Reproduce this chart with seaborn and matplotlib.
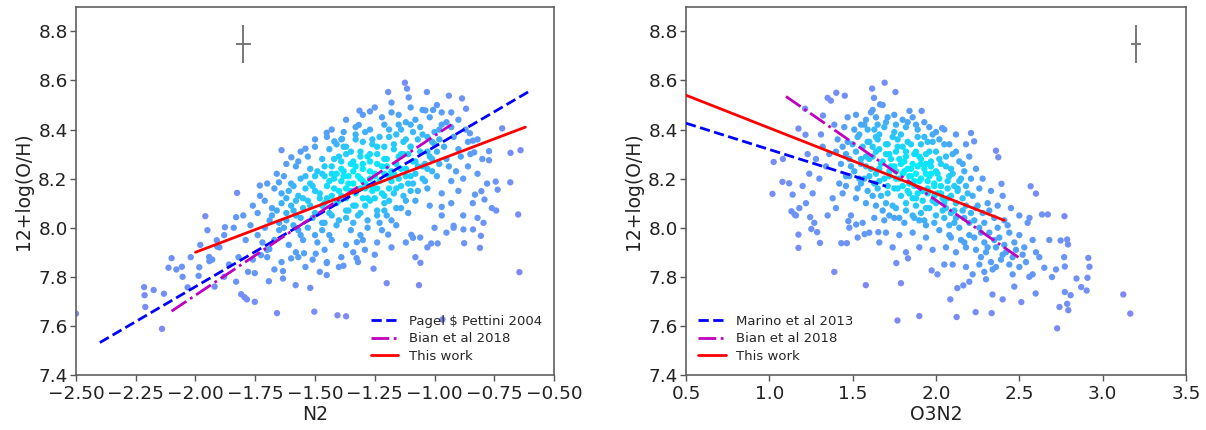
import numpy as np
import pandas as pd
import matplotlib
matplotlib.use("Agg")
import matplotlib.pyplot as plt
from matplotlib.colors import LinearSegmentedColormap
import seaborn as sns

# ---------------- data: N2 panel ----------------
n2_outliers = [
    (-1.124, 8.591), (-1.115, 8.567), (-1.194, 8.553), (-1.032, 8.553), (-1.108, 8.531),
    (-0.94, 8.538), (-0.885, 8.527), (-0.868, 8.485), (-1.006, 8.48), (-1.314, 8.477),
    (-1.27, 8.474), (-0.717, 8.405), (-0.682, 8.305), (-0.64, 8.316), (-0.65, 8.054),
    (-0.645, 7.819), (-0.967, 7.626), (-1.059, 7.857), (-1.065, 7.766), (-1.2, 7.774),
    (-1.255, 7.833), (-1.37, 7.639), (-1.406, 7.643), (-1.503, 7.658), (-1.659, 7.652),
    (-1.52, 7.755), (-1.581, 7.766), (-1.634, 7.793), (-1.693, 7.782), (-1.809, 7.729),
    (-1.795, 7.717), (-1.785, 7.708), (-1.752, 7.698), (-2.14, 7.588), (-2.215, 7.758),
    (-2.213, 7.725), (-2.21, 7.677), (-2.175, 7.746), (-2.132, 7.731), (-2.113, 7.837),
    (-2.1, 7.876), (-2.057, 7.841), (-2.054, 7.8), (-2.033, 7.757), (-1.984, 7.839),
    (-1.987, 7.804), (-1.959, 8.047), (-1.943, 7.881), (-1.942, 7.864), (-1.911, 7.949),
    (-1.909, 7.923), (-1.877, 8.002), (-1.83, 8.043), (-1.826, 8.142), (-1.64, 8.316),
    (-1.731, 8.172), (-1.651, 8.185), (-1.599, 8.287), (-1.54, 8.322), (-1.451, 8.387),
    (-1.419, 8.352), (-1.387, 8.362), (-1.317, 8.419), (-1.038, 8.478), (-0.852, 8.385),
    (-0.839, 8.355), (-0.834, 8.307), (-0.772, 8.312), (-0.772, 8.275), (-0.744, 8.188),
    (-0.736, 8.155), (-0.683, 8.185), (-0.831, 8.135), (-0.804, 8.149), (-0.791, 8.115),
    (-0.76, 8.08), (-0.742, 8.07), (-0.82, 8.04), (-0.795, 8.02), (-0.806, 7.967),
    (-0.839, 7.993), (-0.879, 7.993), (-0.876, 7.937), (-0.81, 7.918), (-0.92, 8.008),
    (-0.97, 8.085), (-1.014, 7.936), (-0.987, 7.936), (-1.097, 7.971), (-1.09, 7.959),
    (-1.194, 7.972), (-1.291, 7.91), (-1.325, 7.941), (-1.326, 7.876), (-1.381, 7.845),
    (-1.451, 7.856), (-1.451, 7.807), (-1.497, 7.894), (-1.546, 7.896), (-1.6, 7.875),
    (-1.634, 7.823), (-1.726, 7.888), (-1.691, 7.913), (-1.752, 7.815), (-2.5, 7.65),
]
n2_core = [
    (-1.22, 8.45), (-1.15, 8.46), (-1.08, 8.44), (-1.02, 8.45), (-0.97, 8.47), (-1.12, 8.43), (-1.18, 8.47), (-0.95, 8.43),
    (-1.33, 8.41), (-1.27, 8.40), (-1.21, 8.42), (-1.14, 8.40), (-1.06, 8.41), (-1.00, 8.39), (-0.93, 8.41), (-1.10, 8.42), (-1.38, 8.39), (-0.97, 8.42),
    (-1.45, 8.37), (-1.39, 8.36), (-1.33, 8.38), (-1.26, 8.36), (-1.19, 8.37), (-1.12, 8.36), (-1.05, 8.38), (-0.98, 8.36), (-0.92, 8.37), (-1.30, 8.35), (-1.16, 8.38), (-1.01, 8.35),
    (-1.50, 8.33), (-1.44, 8.32), (-1.37, 8.33), (-1.31, 8.31), (-1.24, 8.33), (-1.17, 8.32), (-1.10, 8.33), (-1.03, 8.31), (-0.96, 8.33), (-0.90, 8.32), (-1.41, 8.34), (-1.27, 8.30), (-1.13, 8.30), (-1.00, 8.34),
    (-1.53, 8.29), (-1.47, 8.28), (-1.40, 8.29), (-1.34, 8.27), (-1.28, 8.29), (-1.21, 8.28), (-1.15, 8.29), (-1.08, 8.27), (-1.02, 8.29), (-0.95, 8.28), (-0.89, 8.29), (-1.37, 8.30), (-1.24, 8.26), (-1.11, 8.30), (-0.98, 8.26), (-1.57, 8.27),
    (-1.58, 8.25), (-1.52, 8.24), (-1.46, 8.25), (-1.39, 8.24), (-1.33, 8.25), (-1.27, 8.23), (-1.20, 8.25), (-1.14, 8.24), (-1.07, 8.25), (-1.01, 8.23), (-0.94, 8.25), (-1.43, 8.22), (-1.30, 8.26), (-1.17, 8.22), (-1.04, 8.26), (-0.91, 8.23), (-1.36, 8.21),
    (-1.63, 8.21), (-1.56, 8.20), (-1.50, 8.21), (-1.44, 8.19), (-1.38, 8.21), (-1.31, 8.20), (-1.25, 8.21), (-1.18, 8.19), (-1.12, 8.21), (-1.05, 8.20), (-0.99, 8.21), (-0.93, 8.19), (-1.47, 8.22), (-1.34, 8.18), (-1.21, 8.22), (-1.09, 8.18), (-1.28, 8.17), (-1.60, 8.18),
    (-1.67, 8.16), (-1.61, 8.15), (-1.54, 8.16), (-1.48, 8.14), (-1.42, 8.16), (-1.35, 8.15), (-1.29, 8.16), (-1.22, 8.14), (-1.16, 8.16), (-1.10, 8.15), (-1.03, 8.16), (-0.97, 8.14), (-1.51, 8.17), (-1.39, 8.13), (-1.26, 8.17), (-1.13, 8.13), (-1.45, 8.12), (-1.19, 8.11),
    (-1.71, 8.11), (-1.64, 8.10), (-1.58, 8.11), (-1.52, 8.09), (-1.46, 8.10), (-1.40, 8.11), (-1.33, 8.09), (-1.27, 8.11), (-1.21, 8.10), (-1.14, 8.08), (-1.08, 8.11), (-1.02, 8.09), (-1.55, 8.12), (-1.37, 8.07), (-1.24, 8.07), (-1.68, 8.08), (-1.30, 8.12),
    (-1.74, 8.06), (-1.68, 8.05), (-1.62, 8.06), (-1.56, 8.04), (-1.50, 8.06), (-1.43, 8.05), (-1.37, 8.04), (-1.31, 8.06), (-1.24, 8.05), (-1.18, 8.03), (-1.11, 8.06), (-1.59, 8.07), (-1.47, 8.02), (-1.34, 8.02), (-1.21, 8.07), (-1.65, 8.02),
    (-1.77, 8.01), (-1.71, 8.00), (-1.65, 7.99), (-1.59, 8.01), (-1.53, 8.00), (-1.47, 7.99), (-1.41, 8.01), (-1.35, 7.99), (-1.28, 8.00), (-1.22, 7.99), (-1.16, 8.01), (-1.74, 7.97), (-1.56, 7.97), (-1.44, 7.97), (-1.31, 7.97), (-1.62, 8.03),
    (-1.79, 7.95), (-1.72, 7.94), (-1.67, 7.95), (-1.61, 7.93), (-1.55, 7.95), (-1.49, 7.94), (-1.43, 7.95), (-1.37, 7.93), (-1.30, 7.95), (-1.24, 7.94), (-1.70, 7.91), (-1.58, 7.90), (-1.46, 7.91), (-1.34, 7.90),
    (-1.82, 7.88), (-1.76, 7.87), (-1.70, 7.88), (-1.64, 7.86), (-1.57, 7.88), (-1.51, 7.87), (-1.45, 7.86), (-1.39, 7.88), (-1.86, 7.85), (-1.67, 7.83), (-1.54, 7.84), (-1.78, 7.82),
    (-1.90, 7.92), (-1.88, 7.97), (-1.84, 8.00), (-1.80, 8.05), (-1.76, 8.09), (-1.73, 8.13), (-1.70, 8.18), (-1.66, 8.22), (-1.62, 8.26), (-1.56, 8.31), (-1.50, 8.36), (-1.43, 8.40), (-1.37, 8.44),
    (-1.30, 8.46), (-1.25, 8.49), (-1.18, 8.51), (-1.10, 8.49), (-1.05, 8.48), (-0.99, 8.50), (-0.93, 8.47), (-0.90, 8.44), (-0.87, 8.40), (-0.86, 8.35), (-0.85, 8.30), (-0.86, 8.25), (-0.88, 8.20),
    (-0.90, 8.15), (-0.93, 8.10), (-0.97, 8.05), (-1.00, 8.00), (-1.06, 7.96), (-1.12, 7.94), (-1.18, 7.92), (-1.25, 7.89), (-1.32, 7.86), (-1.40, 7.84), (-1.48, 7.82),
    (-1.95, 7.99), (-1.93, 7.87), (-1.98, 7.93), (-2.02, 7.88), (-1.88, 7.80), (-1.83, 7.78), (-2.08, 7.83), (-1.92, 7.76), (-0.82, 8.22), (-0.80, 8.28), (-0.78, 8.18),
    (-0.84, 8.10), (-0.88, 8.05), (-0.92, 8.00), (-0.82, 8.36), (-0.95, 7.98), (-1.03, 7.92), (-1.08, 7.88),
]
n2_center = [
    (-1.45, 8.17), (-1.42, 8.20), (-1.40, 8.15), (-1.38, 8.23), (-1.36, 8.18), (-1.35, 8.26), (-1.33, 8.14), (-1.32, 8.21), (-1.30, 8.24), (-1.29, 8.18),
    (-1.27, 8.27), (-1.26, 8.15), (-1.25, 8.22), (-1.23, 8.19), (-1.22, 8.25), (-1.20, 8.28), (-1.19, 8.16), (-1.18, 8.23), (-1.16, 8.26), (-1.15, 8.20),
    (-1.14, 8.30), (-1.12, 8.24), (-1.11, 8.18), (-1.09, 8.27), (-1.08, 8.22), (-1.06, 8.31), (-1.05, 8.25), (-1.48, 8.12), (-1.47, 8.09), (-1.50, 8.15),
    (-1.53, 8.11), (-1.55, 8.08), (-1.52, 8.18), (-1.44, 8.06), (-1.41, 8.10), (-1.43, 8.13), (-1.39, 8.19), (-1.37, 8.12), (-1.34, 8.09), (-1.31, 8.16),
    (-1.28, 8.12), (-1.24, 8.30), (-1.21, 8.33), (-1.17, 8.34), (-1.13, 8.35), (-1.10, 8.33), (-1.07, 8.36), (-1.26, 8.34), (-1.31, 8.29), (-1.35, 8.31),
    (-1.39, 8.27), (-1.43, 8.25), (-1.46, 8.21), (-1.49, 8.23), (-1.57, 8.13), (-1.60, 8.09), (-1.58, 8.05), (-1.62, 8.12), (-1.51, 8.04), (-1.46, 8.02),
    (-1.40, 8.03), (-1.36, 8.07), (-1.32, 8.05), (-1.29, 8.09), (-1.25, 8.12), (-1.21, 8.13), (-1.17, 8.14), (-1.14, 8.17), (-1.10, 8.21), (-1.03, 8.24),
    (-1.01, 8.28), (-0.99, 8.31), (-1.04, 8.19), (-1.07, 8.15), (-1.12, 8.11), (-1.16, 8.08), (-1.20, 8.05), (-1.23, 8.02), (-1.28, 8.03), (-1.42, 8.28),
    (-1.38, 8.33), (-1.33, 8.36), (-1.29, 8.39), (-1.23, 8.37), (-1.19, 8.40), (-1.15, 8.42), (-1.09, 8.39), (-1.03, 8.37), (-0.98, 8.40), (-1.54, 8.21),
    (-1.59, 8.17), (-1.64, 8.14), (-1.66, 8.07), (-1.69, 8.03), (-1.63, 8.00), (-1.57, 7.99), (-1.50, 7.97), (-1.27, 8.20), (-1.30, 8.19), (-1.34, 8.23),
    (-1.24, 8.16), (-1.19, 8.21), (-1.37, 8.16), (-1.41, 8.22),
]

# ---------------- data: O3N2 panel ----------------
o3n2_outliers = [
    (1.692, 8.591), (1.617, 8.567), (1.757, 8.553), (1.402, 8.55), (1.453, 8.538), (1.664, 8.503),
    (1.628, 8.529), (1.35, 8.529), (1.369, 8.518), (1.215, 8.485), (1.322, 8.457), (1.841, 8.476),
    (1.914, 8.476), (1.175, 8.404), (1.217, 8.379), (1.026, 8.268), (1.082, 8.28), (1.019, 8.138),
    (1.079, 8.187), (1.119, 8.181), (1.14, 8.135), (1.133, 8.067), (1.152, 8.054), (1.175, 7.972),
    (1.175, 7.918), (1.245, 8.043), (1.252, 7.995), (1.287, 7.982), (1.304, 7.938), (1.39, 7.82),
    (1.432, 7.937), (1.465, 7.937), (1.474, 8.027), (1.521, 8.013), (1.572, 7.974), (1.579, 7.766),
    (1.654, 7.982), (1.769, 7.622), (1.762, 7.856), (1.79, 7.774), (1.832, 7.875), (1.9, 7.64),
    (1.974, 7.826), (2.009, 7.81), (2.086, 7.708), (2.124, 7.636), (2.128, 7.754), (2.164, 7.765),
    (2.238, 7.656), (2.334, 7.652), (2.339, 7.728), (2.4, 7.708), (2.512, 7.697), (2.598, 7.732),
    (2.65, 7.837), (2.727, 7.59), (2.741, 7.677), (2.773, 7.738), (2.787, 7.69), (2.794, 7.664),
    (2.771, 8.047), (2.671, 8.054), (2.636, 8.054), (2.787, 7.952), (2.792, 7.932), (2.748, 7.948),
    (2.769, 7.88), (2.773, 7.842), (2.843, 7.793), (2.871, 7.758), (2.904, 7.744), (2.914, 7.877),
    (2.921, 7.841), (2.909, 7.796), (2.808, 7.725), (2.696, 7.799), (3.124, 7.728), (3.166, 7.65),
    (2.568, 8.169), (2.6, 8.139), (2.561, 8.04), (2.36, 8.314), (2.374, 8.287), (2.393, 8.179),
    (2.229, 8.352), (2.21, 8.386), (2.037, 8.406), (2.05, 7.85), (2.2, 7.78), (2.62, 7.88),
    (2.68, 7.95), (2.72, 7.83), (2.58, 7.81), (2.47, 7.76), (2.30, 7.79),
]
o3n2_core = [
    (1.47, 8.45), (1.52, 8.46), (1.58, 8.44), (1.64, 8.45), (1.70, 8.43), (1.55, 8.42), (1.75, 8.46), (1.61, 8.47),
    (1.45, 8.41), (1.51, 8.40), (1.57, 8.42), (1.63, 8.40), (1.69, 8.41), (1.75, 8.39), (1.82, 8.41), (1.89, 8.40), (1.96, 8.41), (1.66, 8.38), (1.54, 8.38), (2.00, 8.39),
    (1.41, 8.36), (1.47, 8.35), (1.53, 8.37), (1.59, 8.35), (1.65, 8.36), (1.71, 8.34), (1.77, 8.36), (1.83, 8.35), (1.89, 8.37), (1.95, 8.35), (2.02, 8.36), (2.08, 8.34), (1.62, 8.33), (1.80, 8.33), (1.44, 8.33),
    (1.40, 8.31), (1.46, 8.30), (1.52, 8.31), (1.58, 8.29), (1.64, 8.31), (1.70, 8.30), (1.76, 8.31), (1.82, 8.29), (1.88, 8.31), (1.94, 8.30), (2.00, 8.31), (2.06, 8.29), (2.12, 8.31), (1.73, 8.28), (1.91, 8.28), (1.55, 8.28),
    (1.43, 8.26), (1.49, 8.25), (1.55, 8.26), (1.61, 8.24), (1.67, 8.26), (1.73, 8.25), (1.79, 8.26), (1.85, 8.24), (1.91, 8.26), (1.97, 8.25), (2.03, 8.26), (2.09, 8.24), (2.16, 8.26), (1.76, 8.23), (1.94, 8.22), (2.00, 8.23), (1.64, 8.22),
    (1.48, 8.21), (1.54, 8.20), (1.60, 8.21), (1.66, 8.19), (1.72, 8.21), (1.78, 8.20), (1.84, 8.21), (1.90, 8.19), (1.96, 8.21), (2.02, 8.20), (2.08, 8.21), (2.14, 8.19), (2.21, 8.20), (1.87, 8.17), (1.99, 8.17), (1.81, 8.23), (2.11, 8.17),
    (1.53, 8.16), (1.59, 8.15), (1.65, 8.16), (1.71, 8.14), (1.77, 8.16), (1.83, 8.15), (1.89, 8.14), (1.95, 8.16), (2.01, 8.14), (2.07, 8.16), (2.13, 8.15), (2.19, 8.14), (2.26, 8.16), (1.86, 8.12), (2.04, 8.12), (1.98, 8.11), (2.16, 8.12),
    (1.58, 8.10), (1.64, 8.09), (1.70, 8.10), (1.76, 8.08), (1.82, 8.10), (1.88, 8.09), (1.94, 8.08), (2.00, 8.10), (2.06, 8.08), (2.12, 8.10), (2.18, 8.09), (2.24, 8.08), (2.31, 8.10), (2.37, 8.09), (2.09, 8.06), (1.91, 8.06), (2.21, 8.06),
    (1.63, 8.04), (1.69, 8.03), (1.75, 8.04), (1.81, 8.02), (1.87, 8.04), (1.93, 8.03), (1.99, 8.02), (2.05, 8.04), (2.11, 8.02), (2.17, 8.04), (2.23, 8.03), (2.29, 8.02), (2.35, 8.04), (2.41, 8.03), (2.14, 8.00), (2.26, 8.00), (2.02, 7.99),
    (1.70, 7.98), (1.78, 7.97), (1.86, 7.98), (1.94, 7.96), (2.08, 7.97), (2.20, 7.97), (2.32, 7.98), (2.38, 7.96), (2.44, 7.98), (2.50, 7.97), (2.17, 7.94), (2.29, 7.94), (2.41, 7.93),
    (1.90, 7.92), (1.98, 7.91), (2.06, 7.92), (2.12, 7.90), (2.18, 7.92), (2.24, 7.91), (2.30, 7.90), (2.36, 7.92), (2.42, 7.90), (2.48, 7.91), (2.27, 7.88), (2.39, 7.87), (2.33, 7.86),
    (2.10, 7.85), (2.18, 7.84), (2.26, 7.85), (2.34, 7.83), (2.44, 7.85), (2.50, 7.84), (2.54, 7.86), (2.22, 7.81), (2.46, 7.81), (2.56, 7.80),
    (1.22, 8.10), (1.26, 8.14), (1.30, 8.20), (1.34, 8.25), (1.38, 8.12), (1.42, 8.18), (1.36, 8.30), (1.32, 8.33), (1.28, 8.28), (1.24, 8.22), (1.20, 8.17), (1.18, 8.08),
    (1.16, 8.05), (1.40, 8.08), (1.44, 8.14), (1.46, 8.21), (1.49, 8.05), (1.52, 8.12), (1.35, 8.05), (1.27, 8.02), (1.31, 8.38), (1.39, 8.42), (1.23, 8.30), (1.48, 8.00),
    (1.56, 8.02), (1.60, 7.98), (1.53, 7.96), (1.66, 7.94), (1.74, 7.92), (1.82, 7.90), (1.62, 8.48), (1.68, 8.50), (1.80, 8.44), (1.86, 8.45), (1.93, 8.43), (2.05, 8.40),
    (2.12, 8.38), (2.18, 8.34), (2.20, 8.29), (2.24, 8.24), (2.28, 8.20), (2.33, 8.15), (2.40, 8.13), (2.45, 8.08), (2.50, 8.05), (2.55, 8.02), (2.58, 7.95), (2.60, 7.90), (2.53, 7.92),
]
o3n2_center = [
    (1.75, 8.25), (1.78, 8.28), (1.80, 8.22), (1.82, 8.31), (1.84, 8.18), (1.86, 8.26), (1.88, 8.22), (1.90, 8.29), (1.92, 8.15), (1.93, 8.24),
    (1.95, 8.19), (1.97, 8.27), (1.99, 8.13), (2.01, 8.22), (2.03, 8.17), (2.05, 8.10), (2.07, 8.19), (2.09, 8.13), (2.11, 8.07), (2.13, 8.16),
    (1.72, 8.30), (1.70, 8.34), (1.68, 8.27), (1.66, 8.32), (1.64, 8.37), (1.62, 8.29), (1.60, 8.35), (1.58, 8.25), (1.56, 8.33), (1.74, 8.37),
    (1.77, 8.33), (1.79, 8.38), (1.85, 8.34), (1.87, 8.30), (1.91, 8.34), (1.96, 8.31), (1.98, 8.35), (2.02, 8.28), (2.06, 8.25), (2.10, 8.22),
    (2.15, 8.20), (2.18, 8.17), (2.22, 8.13), (2.25, 8.09), (2.28, 8.06), (2.32, 8.07), (2.20, 8.02), (2.16, 8.07), (2.12, 8.04), (2.08, 8.01),
    (2.04, 8.07), (2.00, 8.05), (1.96, 8.08), (1.92, 8.11), (1.88, 8.12), (1.84, 8.14), (1.80, 8.17), (1.76, 8.20), (1.72, 8.23), (1.69, 8.20),
    (1.66, 8.24), (1.63, 8.18), (1.60, 8.28), (1.57, 8.20), (1.83, 8.24), (1.87, 8.19), (1.91, 8.20), (1.94, 8.26), (1.89, 8.25), (1.85, 8.21),
    (1.81, 8.27), (1.99, 8.18), (2.03, 8.14), (2.07, 8.12), (1.95, 8.14), (1.97, 8.22), (1.79, 8.13), (1.75, 8.16), (1.71, 8.17), (1.67, 8.13),
    (1.74, 8.09), (1.82, 8.07), (1.86, 8.05), (1.90, 8.03), (1.94, 8.01), (2.09, 7.96), (2.15, 7.95), (2.23, 7.96), (2.27, 7.98), (2.35, 7.95),
    (2.31, 7.92), (2.37, 8.00), (2.43, 8.01), (2.47, 7.94), (2.40, 7.89), (2.46, 7.88), (2.52, 7.89), (2.36, 7.84), (2.29, 7.82), (1.98, 8.38),
    (2.05, 8.34), (2.10, 8.30), (2.14, 8.27), (2.17, 8.23), (1.93, 8.37), (1.88, 8.42), (1.83, 8.43), (1.76, 8.42), (1.71, 8.45), (1.65, 8.42),
    (1.59, 8.40), (1.50, 8.34), (1.48, 8.28), (1.51, 8.23), (1.46, 8.17), (1.55, 8.18), (1.62, 8.13), (1.68, 8.07), (1.72, 8.05), (1.78, 8.04),
]

# ---------------- relations (end points) ----------------
pp04_x = [-2.4, -0.6]
pp04_y = [7.532, 8.558]
bian_n2_x = [-2.1, -0.93]
bian_n2_y = [7.66, 8.42]
this_n2_x = [-2.0, -0.62]
this_n2_y = [7.90, 8.41]

marino_x = [0.5, 1.7]
marino_y = [8.426, 8.169]
bian_o3_x = [1.1, 2.5]
bian_o3_y = [8.535, 7.877]
this_o3_x = [0.5, 2.41]
this_o3_y = [8.54, 8.03]

# representative error bars
err_n2 = dict(x=-1.8, y=8.75, xerr=0.031, yerr=0.078)
err_o3 = dict(x=3.2, y=8.75, xerr=0.028, yerr=0.078)

n2_ticks = [-2.5, -2.25, -2.0, -1.75, -1.5, -1.25, -1.0, -0.75, -0.5]
n2_ticklabels = ["\u22122.50", "\u22122.25", "\u22122.00", "\u22121.75", "\u22121.50",
                 "\u22121.25", "\u22121.00", "\u22120.75", "\u22120.50"]
o3_ticks = [0.5, 1.0, 1.5, 2.0, 2.5, 3.0, 3.5]
y_ticks = [7.4, 7.6, 7.8, 8.0, 8.2, 8.4, 8.6, 8.8]

sns.set_theme(style="white")
plt.rcParams['font.family'] = ['DejaVu Sans']

cmap = LinearSegmentedColormap.from_list("dens", ["#8088f4", "#4aa6f8", "#00eeff"])


def density_frame(points, sx, sy):
    arr = np.array(points)
    x, y = arr[:, 0], arr[:, 1]
    dx = (x[:, None] - x[None, :]) / sx
    dy = (y[:, None] - y[None, :]) / sy
    d = np.exp(-0.5 * (dx ** 2 + dy ** 2)).sum(axis=1)
    df = pd.DataFrame({"x": x, "y": y, "d": d})
    return df.sort_values("d")


fig = plt.figure(figsize=(12.06, 4.30), dpi=100)
ax1 = fig.add_axes([0.0630, 0.128, 0.3964, 0.856])
ax2 = fig.add_axes([0.5688, 0.128, 0.4146, 0.856])

panels = [
    (ax1, n2_outliers + n2_core + n2_center, 0.10, 0.07, "N2", (-2.5, -0.5), err_n2,
     [(pp04_x, pp04_y, "#0000ff", "--", "Pagel $ Pettini 2004"),
      (bian_n2_x, bian_n2_y, "#bf00bf", "-.", "Bian et al 2018"),
      (this_n2_x, this_n2_y, "#ff0000", "-", "This work")], "lower right"),
    (ax2, o3n2_outliers + o3n2_core + o3n2_center, 0.14, 0.07, "O3N2", (0.5, 3.5), err_o3,
     [(marino_x, marino_y, "#0000ff", "--", "Marino et al 2013"),
      (bian_o3_x, bian_o3_y, "#bf00bf", "-.", "Bian et al 2018"),
      (this_o3_x, this_o3_y, "#ff0000", "-", "This work")], "lower left"),
]

for ax, pts, sx, sy, xlabel, xlim, err, lines, loc in panels:
    df = density_frame(pts, sx, sy)
    sns.scatterplot(data=df, x="x", y="y", hue="d", palette=cmap,
                    hue_norm=(df["d"].min(), df["d"].max()), legend=False,
                    s=21, linewidth=0, ax=ax, zorder=2)
    for lx, ly, col, ls, lab in lines:
        ax.plot(lx, ly, color=col, linestyle=ls, linewidth=2, label=lab, zorder=3)
    ax.errorbar(err["x"], err["y"], xerr=err["xerr"], yerr=err["yerr"],
                color="#777777", linewidth=1.4, capsize=0, zorder=3)
    ax.set_xlim(*xlim)
    ax.set_ylim(7.4, 8.9)
    ax.set_yticks(y_ticks)
    ax.set_xlabel(xlabel, fontsize=13.5, labelpad=2, color="#222222")
    ax.set_ylabel("12+log(O/H)", fontsize=13.5, labelpad=4, color="#222222")
    ax.tick_params(axis="y", labelsize=13.3, length=4, width=1, color="#555555",
                   labelcolor="#222222", direction="out", left=True, pad=2)
    ax.tick_params(axis="x", labelsize=13.3, length=4, width=1, color="#555555",
                   labelcolor="#222222", direction="out", bottom=True, pad=3)
    for sp in ax.spines.values():
        sp.set_color("#606060")
        sp.set_linewidth(1.2)
    ax.legend(loc=loc, frameon=False, fontsize=9.5, handlelength=2.1,
              handletextpad=0.8, borderaxespad=0.5, labelspacing=0.35)

ax1.set_xticks(n2_ticks)
ax1.set_xticklabels(n2_ticklabels)
ax2.set_xticks(o3_ticks)

fig.savefig("out.png", dpi=100)
